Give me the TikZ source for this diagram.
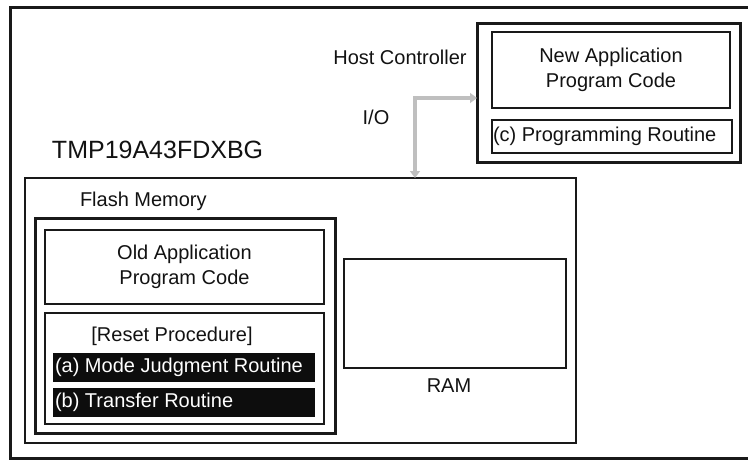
\documentclass[tikz,border=0pt]{standalone}
\usepackage{fontspec}
\setmainfont{Liberation Sans}
\usetikzlibrary{arrows.meta}
\begin{document}
\begin{tikzpicture}[x=1pt,y=-1pt,
  every node/.style={inner sep=0pt,outer sep=0pt,font=\fontsize{20}{24}\selectfont,text=black!93},
  boxx/.style={draw=black!90,anchor=north west,align=center},
  thin box/.style={boxx,line width=1.5pt},
  mid box/.style={boxx,line width=2pt},
  thick box/.style={boxx,line width=3pt},
  bar/.style={anchor=north west,fill=black!95,draw=none},
  bartext/.style={anchor=west,text=white},
  io/.style={draw=black!25,line width=4pt,line join=miter,{Triangle[width=10pt,length=7pt]}-{Triangle[width=10pt,length=7pt]}}
]
\useasboundingbox (0,0) rectangle (748,459);
% outer frame
\draw[line width=3pt,black!90] (760,7) -- (10,7) -- (10,458) -- (760,458);
% chip
\node[mid box,minimum width=551pt,minimum height=265pt] (chip) at (25,178) {};
\node[anchor=west,font=\fontsize{25}{30}\selectfont] (tmp) at (52,150) {TMP19A43FDXBG};
% flash
\node[thick box,minimum width=300pt,minimum height=215pt] (flash) at (35,218) {};
\node[anchor=west] (flashlbl) at (80,201) {Flash Memory};
\node[thin box,minimum width=279pt,minimum height=74pt] (oldapp) at (45,230) {Old Application\\[1pt]Program Code};
\node[thin box,minimum width=279pt,minimum height=111pt] (reset) at (45,313) {};
\node (resetlbl) at (172,336) {[Reset Procedure]};
\node[bar,minimum width=262pt,minimum height=29pt] (bara) at (53,353) {};
\node[bartext] (bartxta) at ([xshift=2pt]bara.west) {(a) Mode Judgment Routine};
\node[bar,minimum width=262pt,minimum height=29pt] (barb) at (53,388) {};
\node[bartext] (bartxtb) at ([xshift=2pt]barb.west) {(b) Transfer Routine};
% RAM
\node[mid box,minimum width=222pt,minimum height=109pt] (ram) at (344,259) {};
\node (ramlbl) at (449,386) {RAM};
% host
\node[thick box,minimum width=263pt,minimum height=139pt] (host) at (477,23) {};
\node (hostlbl) at (400,57) {Host Controller};
\node[thin box,minimum width=238pt,minimum height=76pt] (newapp) at (492,32) {New Application\\[1pt]Program Code};
\node[thin box,minimum width=240pt,minimum height=33pt] (progc) at (492,120) {};
\node[anchor=west] (progctxt) at ([xshift=1pt]progc.west) {(c) Programming Routine};
% I/O
\node (iolbl) at (376,117) {I/O};
\coordinate (bend) at (415,98);
\draw[io] (bend -| host.west) -- (bend) -- (bend |- chip.north);
\end{tikzpicture}
\end{document}
